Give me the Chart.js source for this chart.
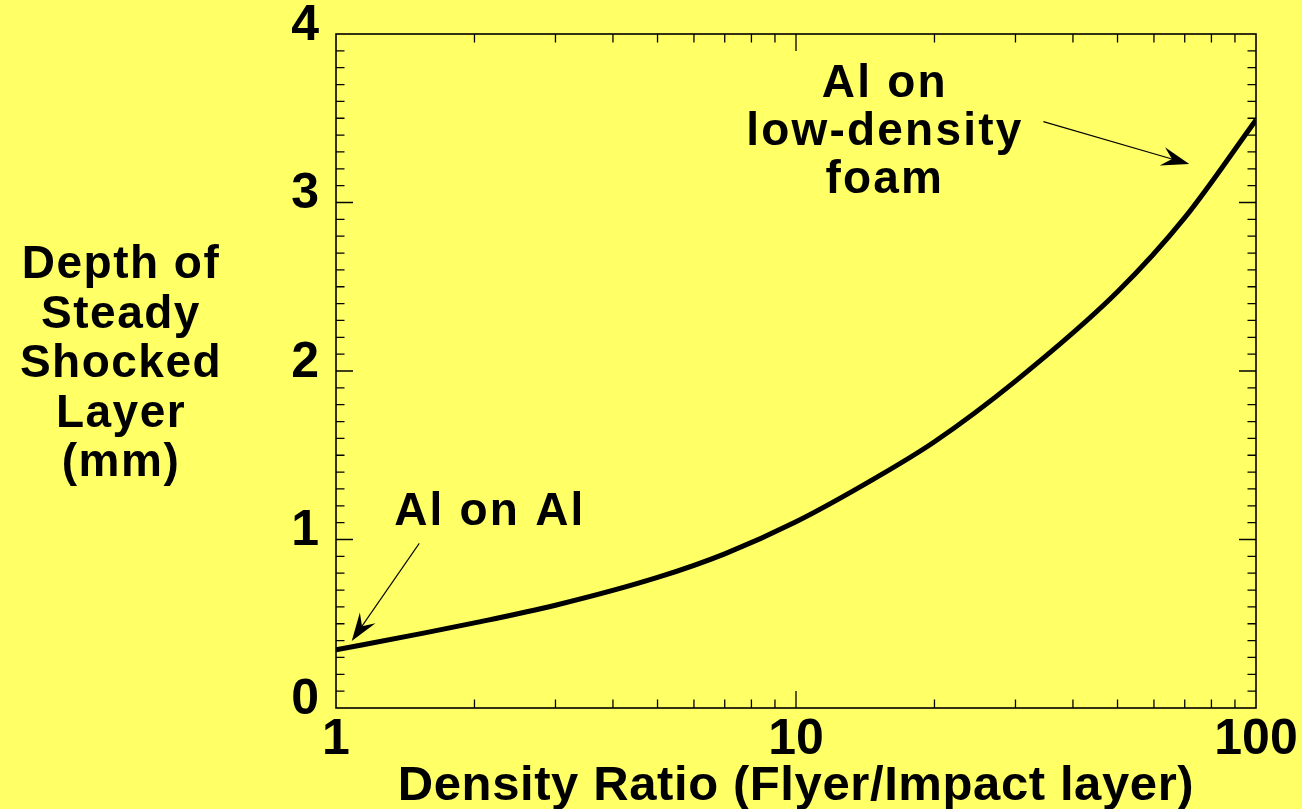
<!DOCTYPE html>
<html>
<head>
<meta charset="utf-8">
<script src="https://cdn.jsdelivr.net/npm/chart.js@4/dist/chart.umd.min.js"></script>
<style>
  html, body { margin: 0; padding: 0; background: #ffff66; overflow: hidden; }
  canvas { display: block; }
</style>
</head>
<body>
<canvas id="c" width="1302" height="809"></canvas>
<script>
// Depth of the steady shocked layer versus flyer/impact-layer density ratio
const densityRatio = [1, 1.5, 2, 3, 5, 7, 10, 15, 20, 30, 50, 70, 100];
const depthMm      = [0.345, 0.437, 0.505, 0.61, 0.775, 0.915, 1.105, 1.37, 1.58, 1.94, 2.47, 2.91, 3.49];

const xTickLabels = [1, 10, 100];
const yTickLabels = [0, 1, 2, 3, 4];

const yAxisTitle = ['Depth of', 'Steady', 'Shocked', 'Layer', '(mm)'];
const xAxisTitle = 'Density Ratio (Flyer/Impact layer)';

// Callouts: text anchor (centre of first baseline) and arrow tail/tip, in data units
const callouts = [
  { lines: ['Al on Al'], text: [2.16, 1.086], tail: [1.517, 0.977], tip: [1.082, 0.398] },
  { lines: ['Al on', 'low-density', 'foam'], text: [15.6, 3.626], tail: [34.5, 3.48], tip: [71.6, 3.228] }
];

const BG = '#ffff66';
const FONT = '"Liberation Sans", Arial, Helvetica, sans-serif';

function arrow(ctx, x0, y0, x1, y1) {
  const dx = x1 - x0, dy = y1 - y0, len = Math.hypot(dx, dy);
  const ux = dx / len, uy = dy / len, px = -uy, py = ux;
  const headLen = 28, half = 9.5, notch = 18;
  ctx.beginPath();
  ctx.lineWidth = 1.1;
  ctx.moveTo(x0, y0);
  ctx.lineTo(x1 - ux * notch, y1 - uy * notch);
  ctx.stroke();
  ctx.beginPath();
  ctx.moveTo(x1, y1);
  ctx.lineTo(x1 - ux * headLen + px * half, y1 - uy * headLen + py * half);
  ctx.lineTo(x1 - ux * notch, y1 - uy * notch);
  ctx.lineTo(x1 - ux * headLen - px * half, y1 - uy * headLen - py * half);
  ctx.closePath();
  ctx.fill();
}

const framePlugin = {
  id: 'frame',
  beforeDraw(chart) {
    const ctx = chart.ctx;
    ctx.save();
    ctx.fillStyle = BG;
    ctx.fillRect(0, 0, chart.width, chart.height);
    ctx.restore();
  },
  afterDraw(chart) {
    const { ctx, chartArea: a, scales: { x, y } } = chart;
    ctx.save();
    ctx.strokeStyle = '#000';
    ctx.fillStyle = '#000';

    // plot frame
    ctx.lineWidth = 1.6;
    ctx.strokeRect(a.left, a.top, a.right - a.left, a.bottom - a.top);

    // inward ticks on all four sides
    const minorLen = 8.5, majorLen = 17;
    ctx.lineWidth = 1.3;
    ctx.beginPath();
    for (const d of [1, 10]) {
      for (let k = 1; k <= 10; k++) {
        const v = d * k;
        if (v === 1 || v === 100) continue;
        const px = x.getPixelForValue(v);
        const L = (k === 10 || k === 1) ? majorLen : minorLen;
        ctx.moveTo(px, a.bottom); ctx.lineTo(px, a.bottom - L);
        ctx.moveTo(px, a.top);    ctx.lineTo(px, a.top + L);
      }
    }
    for (let i = 1; i < 40; i++) {
      const v = i / 10;
      const py = y.getPixelForValue(v);
      const L = (i % 10 === 0) ? majorLen : minorLen;
      ctx.moveTo(a.left, py);  ctx.lineTo(a.left + L, py);
      ctx.moveTo(a.right, py); ctx.lineTo(a.right - L, py);
    }
    ctx.stroke();

    // y-axis title, horizontal stacked lines
    ctx.font = 'bold 46px ' + FONT;
    ctx.textAlign = 'center';
    ctx.textBaseline = 'alphabetic';
    ctx.letterSpacing = '1.5px';
    yAxisTitle.forEach((t, i) => ctx.fillText(t, 121, 278 + i * 49.6));

    // x-axis title
    ctx.font = 'bold 49px ' + FONT;
    ctx.letterSpacing = '0.6px';
    ctx.fillText(xAxisTitle, x.getPixelForValue(10), 800);

    // callouts with arrows
    ctx.font = 'bold 46px ' + FONT;
    ctx.letterSpacing = '2.2px';
    callouts.forEach(c => {
      const tx = x.getPixelForValue(c.text[0]);
      const ty = y.getPixelForValue(c.text[1]);
      c.lines.forEach((t, i) => ctx.fillText(t, tx, ty + i * 48));
      arrow(ctx,
        x.getPixelForValue(c.tail[0]), y.getPixelForValue(c.tail[1]),
        x.getPixelForValue(c.tip[0]),  y.getPixelForValue(c.tip[1]));
    });
    ctx.restore();
  }
};

new Chart(document.getElementById('c'), {
  type: 'line',
  data: {
    datasets: [{
      data: densityRatio.map((r, i) => ({ x: r, y: depthMm[i] })),
      borderColor: '#000',
      borderWidth: 5,
      pointRadius: 0,
      cubicInterpolationMode: 'monotone',
      fill: false
    }]
  },
  options: {
    responsive: false,
    animation: false,
    layout: { padding: { top: 34, right: 46, left: 0, bottom: 0 } },
    plugins: { legend: { display: false }, tooltip: { enabled: false } },
    scales: {
      x: {
        type: 'logarithmic',
        min: 1, max: 100,
        grid: { display: false, drawTicks: false },
        border: { display: false },
        afterBuildTicks: s => { s.ticks = xTickLabels.map(v => ({ value: v })); },
        afterFit: s => { s.height = 101; s.paddingLeft = 0; s.paddingRight = 0; },
        ticks: {
          autoSkip: false, maxRotation: 0, padding: 2,
          color: '#000',
          font: { family: FONT, size: 50, weight: 'bold' },
          callback: v => String(v)
        }
      },
      y: {
        type: 'linear',
        min: 0, max: 4,
        grid: { display: false, drawTicks: false },
        border: { display: false },
        afterBuildTicks: s => { s.ticks = yTickLabels.map(v => ({ value: v })); },
        afterFit: s => { s.width = 336; s.paddingTop = 0; s.paddingBottom = 0; },
        ticks: {
          padding: 17, labelOffset: -8,
          color: '#000',
          font: { family: FONT, size: 50, weight: 'bold' },
          callback: v => String(v)
        }
      }
    }
  },
  plugins: [framePlugin]
});
</script>
</body>
</html>
